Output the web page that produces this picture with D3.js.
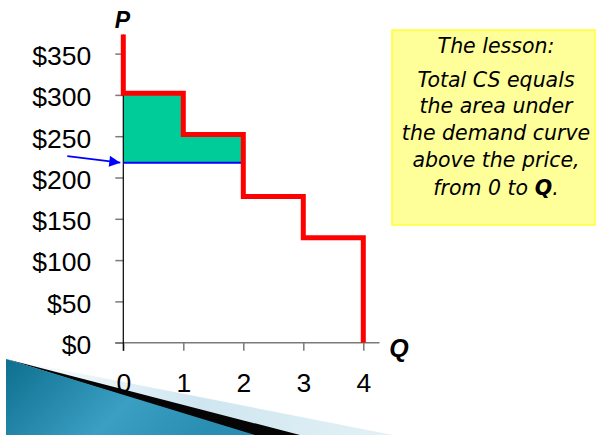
<!DOCTYPE html>
<html>
<head>
<meta charset="utf-8">
<script src="https://cdn.jsdelivr.net/npm/d3@7"></script>
<style>
  body { margin: 0; background: #fff; }
  svg { display: block; }
</style>
</head>
<body>
<script>
const width = 596;
const height = 435;

// data
const units = [0, 1, 2, 3, 4];
const unitPrices = [302, 252, 177, 127]; // what each buyer will pay
const topPrice = 373;                      // where the demand curve starts
const marketPrice = 218;
const quantityBought = 2;
const yTicks = [0, 50, 100, 150, 200, 250, 300, 350];
const lessonLines = ['Total CS equals', 'the area under', 'the demand curve', 'above the price,'];

const x = d3.scaleLinear().domain([0, 4]).range([123.3, 363.3]);
const y = d3.scaleLinear().domain([0, 350]).range([342.7, 53.6]);

const svg = d3.select('body').append('svg')
    .attr('width', width)
    .attr('height', height);

const defs = svg.append('defs');

// slide template decoration, bottom left
let gTeal = defs.append('linearGradient').attr('id', 'teal')
    .attr('x1', '0%').attr('y1', '0%').attr('x2', '100%').attr('y2', '30%');
gTeal.append('stop').attr('offset', '0%').attr('stop-color', '#0e6f8f');
gTeal.append('stop').attr('offset', '60%').attr('stop-color', '#3a9fc3');
gTeal.append('stop').attr('offset', '100%').attr('stop-color', '#2a8db2');

let gPale = defs.append('linearGradient').attr('id', 'pale')
    .attr('x1', '0%').attr('y1', '0%').attr('x2', '100%').attr('y2', '0%');
gPale.append('stop').attr('offset', '0%').attr('stop-color', '#ffffff');
gPale.append('stop').attr('offset', '50%').attr('stop-color', '#cfe6f0');
gPale.append('stop').attr('offset', '100%').attr('stop-color', '#e4f1f7');

const deco = svg.append('g');
deco.append('polygon').attr('points', '6,359 393,435 290,435').attr('fill', 'url(#pale)');
deco.append('polygon').attr('points', '6,359 300,435 250,435').attr('fill', '#050505');
deco.append('polygon').attr('points', '6,359 255,435 6,435').attr('fill', 'url(#teal)');

// consumer surplus area
const csPoints = unitPrices.slice(0, quantityBought).map((p, i) => [i, p]);
csPoints.push([quantityBought, unitPrices[quantityBought - 1]]);
svg.append('path')
    .datum(csPoints)
    .attr('d', d3.area().curve(d3.curveStepAfter)
        .x(d => x(d[0])).y0(y(marketPrice)).y1(d => y(d[1])))
    .attr('fill', '#00cc99');

// axes
const yAxis = d3.axisLeft(y).tickValues(yTicks)
    .tickFormat(d => '$' + d).tickSize(8).tickPadding(24).tickSizeOuter(0);
const xAxis = d3.axisBottom(x).tickValues(units).tickFormat(d3.format('d'))
    .tickSize(8).tickPadding(24).tickSizeOuter(0);

const gy = svg.append('g').attr('transform', `translate(${x(0)},0)`).call(yAxis);
const gx = svg.append('g').attr('transform', `translate(0,${y(0)})`).call(xAxis);
[gx, gy].forEach(g => {
    g.select('.domain').remove();
    g.selectAll('line').attr('stroke', '#7a7a7a').attr('stroke-width', 1.5);
    g.selectAll('text')
        .attr('fill', '#000')
        .style('font-family', '"Liberation Sans", Arial, sans-serif')
        .style('font-size', '26.5px');
});
gy.selectAll('text').attr('dy', '0.41em');
gx.selectAll('text').attr('dy', '0.66em');

svg.append('line')
    .attr('x1', x(0) - 8).attr('x2', x(4.27))
    .attr('y1', y(0)).attr('y2', y(0))
    .attr('stroke', '#7a7a7a').attr('stroke-width', 1.5);
svg.append('line')
    .attr('x1', x(0)).attr('x2', x(0))
    .attr('y1', y(topPrice)).attr('y2', y(0) + 8)
    .attr('stroke', '#000').attr('stroke-width', 1.2);

// price line
svg.append('line')
    .attr('x1', x(0)).attr('x2', x(quantityBought))
    .attr('y1', y(marketPrice)).attr('y2', y(marketPrice))
    .attr('stroke', '#0000ff').attr('stroke-width', 2);

// demand curve (steps)
let steps = [[0, topPrice]];
unitPrices.forEach((p, i) => { steps.push([i, p]); steps.push([i + 1, p]); });
steps.push([unitPrices.length, 0]);

svg.append('path')
    .datum(steps)
    .attr('d', d3.line().x(d => x(d[0])).y(d => y(d[1])))
    .attr('fill', 'none')
    .attr('stroke', '#ff0000')
    .attr('stroke-width', 5)
    .attr('stroke-linejoin', 'miter')
    .attr('stroke-linecap', 'butt');

// arrow pointing at the price
defs.append('marker').attr('id', 'head')
    .attr('viewBox', '0 0 10 10').attr('refX', 10).attr('refY', 5)
    .attr('markerWidth', 6).attr('markerHeight', 5.5).attr('orient', 'auto')
    .append('path').attr('d', 'M0,0L10,5L0,10z').attr('fill', '#0000ff');

svg.append('line')
    .attr('x1', x(0) - 56).attr('y1', y(marketPrice) - 6.5)
    .attr('x2', x(0) - 3).attr('y2', y(marketPrice))
    .attr('stroke', '#0000ff').attr('stroke-width', 2)
    .attr('marker-end', 'url(#head)');

// axis titles
svg.append('text').attr('x', x(0) - 1).attr('y', 28)
    .attr('text-anchor', 'middle')
    .style('font-family', '"Liberation Sans", Arial, sans-serif')
    .style('font-size', '23px').style('font-weight', 'bold').style('font-style', 'italic')
    .text('P');
svg.append('text').attr('x', 399).attr('y', 357)
    .attr('text-anchor', 'middle')
    .style('font-family', '"Liberation Sans", Arial, sans-serif')
    .style('font-size', '25px').style('font-weight', 'bold').style('font-style', 'italic')
    .text('Q');

// lesson box
svg.append('rect')
    .attr('x', 392).attr('y', 30).attr('width', 203).attr('height', 195)
    .attr('fill', '#ffff99').attr('stroke', '#ffff33').attr('stroke-width', 1.5);

const note = svg.append('text')
    .attr('text-anchor', 'middle')
    .style('font-family', '"DejaVu Sans", Verdana, sans-serif')
    .style('font-size', '20.5px').style('font-style', 'italic')
    .attr('fill', '#000');
note.append('tspan').attr('x', 496).attr('y', 53).text('The lesson:');
lessonLines.forEach((t, i) => {
    note.append('tspan').attr('x', 496).attr('y', 86.5 + i * 26.8).text(t);
});
const last = note.append('tspan').attr('x', 496).attr('y', 86.5 + 4 * 27.2);
last.append('tspan').text('from 0 to ');
last.append('tspan').style('font-weight', 'bold').text('Q');
last.append('tspan').text('.');
</script>
</body>
</html>
